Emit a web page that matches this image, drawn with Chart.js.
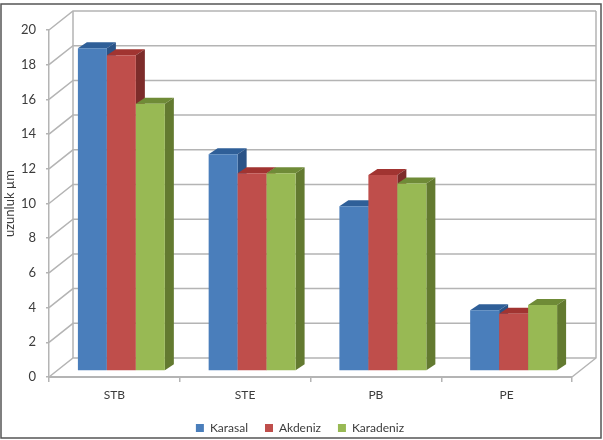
<!DOCTYPE html>
<html>
<head>
<meta charset="utf-8">
<title>uzunluk</title>
<script src="https://cdn.jsdelivr.net/npm/chart.js@4"></script>
<style>
html, body { margin: 0; padding: 0; background: #fff; }
canvas { display: block; }
</style>
</head>
<body>
<canvas id="chart" width="603" height="440"></canvas>
<script>
// Data
const categories = ['STB', 'STE', 'PB', 'PE'];
const karasal = [18.6, 12.5, 9.5, 3.5];
const akdeniz = [18.2, 11.4, 11.3, 3.3];
const karadeniz = [15.4, 11.4, 10.8, 3.8];
const seriesNames = ['Karasal', 'Akdeniz', 'Karadeniz'];
const yMax = 20;
const yStep = 2;

// Colours: front, top, side
const blue = ['#4a7ebb', '#2f5f98', '#2a5387'];
const red = ['#bf4e4b', '#a13431', '#7d2c2a'];
const green = ['#98b954', '#6f8b37', '#637a30'];
const gridColor = '#b4b4b4';
const textColor = '#3c3c3c';

// Fake 3D: wall depth and how far the bars sit in from the front plane
const wallDx = 24, wallDy = 19;
const barDx = 7, barDy = 6;
const sideDx = 9, sideDy = 6;

function poly(ctx, pts, color) {
    ctx.fillStyle = color;
    ctx.beginPath();
    pts.forEach((p, i) => i ? ctx.lineTo(p[0], p[1]) : ctx.moveTo(p[0], p[1]));
    ctx.closePath();
    ctx.fill();
}

// Outer frame of the picture
const framePlugin = {
    id: 'frame',
    beforeDraw(chart) {
        const ctx = chart.ctx;
        ctx.save();
        ctx.strokeStyle = '#555';
        ctx.lineWidth = 1.5;
        ctx.strokeRect(1, 4, 600, 434);
        ctx.restore();
    }
};

// Back wall, slanted side wall and floor lines, all from the scales
const wallPlugin = {
    id: 'walls',
    // right padding pushes the legend off centre, put it back
    afterLayout(chart) {
        chart.legend.left += 13;
        chart.legend.right += 13;
    },
    beforeDatasetsDraw(chart) {
        const ctx = chart.ctx, y = chart.scales.y, a = chart.chartArea;
        ctx.save();
        ctx.strokeStyle = gridColor;
        ctx.lineWidth = 1.5;
        y.ticks.forEach(t => {
            const py = y.getPixelForValue(t.value);
            ctx.beginPath();
            ctx.moveTo(a.left, py);
            ctx.lineTo(a.left + wallDx, py - wallDy);
            ctx.lineTo(a.right + wallDx, py - wallDy);
            ctx.stroke();
        });
        ctx.beginPath();
        ctx.moveTo(a.left + wallDx, a.top - wallDy);
        ctx.lineTo(a.left + wallDx, a.bottom - wallDy);
        ctx.moveTo(a.right + wallDx, a.top - wallDy);
        ctx.lineTo(a.right + wallDx, a.bottom - wallDy);
        ctx.lineTo(a.right, a.bottom);
        ctx.stroke();
        ctx.restore();
    },
    // bars are drawn by the plugin below, first series first
    beforeDatasetDraw() {
        return false;
    }
};

const barsPlugin = {
    id: 'bars3d',
    afterDatasetsDraw(chart) {
        const ctx = chart.ctx;
        const colors = [blue, red, green];
        ctx.save();
        ctx.translate(barDx, -barDy);
        chart.data.datasets.forEach((ds, i) => {
            chart.getDatasetMeta(i).data.forEach(bar => {
                const l = bar.x - bar.width / 2, r = bar.x + bar.width / 2;
                poly(ctx, [[l, bar.y], [l + sideDx, bar.y - sideDy], [r + sideDx, bar.y - sideDy], [r, bar.y]], colors[i][1]);
                poly(ctx, [[r, bar.y], [r + sideDx, bar.y - sideDy], [r + sideDx, bar.base - sideDy], [r, bar.base]], colors[i][2]);
                bar.draw(ctx);
            });
        });
        ctx.restore();
    }
};

new Chart(document.getElementById('chart'), {
    type: 'bar',
    data: {
        labels: categories,
        datasets: [
            { label: seriesNames[0], data: karasal, backgroundColor: blue[0] },
            { label: seriesNames[1], data: akdeniz, backgroundColor: red[0] },
            { label: seriesNames[2], data: karadeniz, backgroundColor: green[0] }
        ]
    },
    plugins: [framePlugin, wallPlugin, barsPlugin],
    options: {
        responsive: false,
        animation: false,
        layout: { padding: { left: 2, right: 31, top: 30, bottom: -4 } },
        font: { family: 'Lato' },
        datasets: { bar: { categoryPercentage: 0.665, barPercentage: 1 } },
        plugins: {
            tooltip: { enabled: false },
            legend: {
                position: 'bottom',
                labels: {
                    boxWidth: 8,
                    boxHeight: 8,
                    padding: 17,
                    color: textColor,
                    font: { family: 'Lato', size: 12 }
                }
            }
        },
        scales: {
            x: {
                grid: { drawOnChartArea: false, color: gridColor, lineWidth: 1.5, tickLength: 5 },
                border: { color: gridColor, width: 2 },
                ticks: { color: textColor, padding: 6, font: { family: 'Lato', size: 12 } },
                afterFit(s) { s.height = 28; }
            },
            y: {
                min: 0,
                max: yMax,
                grid: { drawOnChartArea: false, color: gridColor, lineWidth: 1.5, tickLength: 3 },
                border: { color: gridColor, width: 1.5 },
                ticks: { stepSize: yStep, color: textColor, padding: 10, font: { family: 'Lato', size: 13 } },
                title: { display: true, text: 'uzunluk µm', color: textColor, padding: 0, font: { family: 'Lato', size: 13 } },
                afterFit(s) { s.width = 47; }
            }
        }
    }
});
</script>
</body>
</html>
